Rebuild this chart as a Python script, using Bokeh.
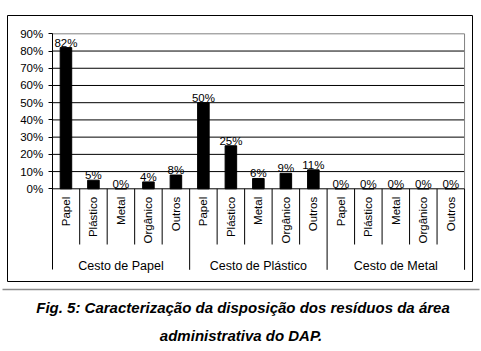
import math
from bokeh.plotting import figure
from bokeh.models import Range1d, FixedTicker, PrintfTickFormatter
from bokeh.core.properties import value
from bokeh.embed import file_html
from bokeh.resources import INLINE

# ---------------- data ----------------
groups = ["Cesto de Papel", "Cesto de Plástico", "Cesto de Metal"]
materials = ["Papel", "Plástico", "Metal", "Orgânico", "Outros"]
pct_cesto_papel = [82, 5, 0, 4, 8]
pct_cesto_plastico = [50, 25, 6, 9, 11]
pct_cesto_metal = [0, 0, 0, 0, 0]
y_ticks = [0, 10, 20, 30, 40, 50, 60, 70, 80, 90]
caption_line1 = "Fig. 5: Caracterização da disposição dos resíduos da área"
caption_line2 = "administrativa do DAP."

# ---------------- layout (pixels of the 481x351 page) ----------------
W, H = 481, 351
AX_X, AX_Y0 = 51.7, 188.3      # pixel position of the value axis and of 0 %
SLOT = 27.49                   # width of one category slot
PX_PER_PCT = 1.722             # pixels per percentage point
FONT = "Liberation Sans"


def dx(px):
    return (px - AX_X) / SLOT


def dy(py):
    return (AX_Y0 - py) / PX_PER_PCT


values = pct_cesto_papel + pct_cesto_plastico + pct_cesto_metal
sub_labels = materials * len(groups)
n = len(values)
centers = [i + 0.5 for i in range(n)]
gsize = len(materials)

p = figure(width=W, height=H,
           x_range=Range1d(dx(0), dx(W)), y_range=Range1d(dy(H), dy(0)),
           x_axis_location=None,
           output_backend="svg", toolbar_location=None, min_border=0)
p.outline_line_color = None
p.grid.visible = False
p.background_fill_color = "white"
p.border_fill_color = "white"

# outer chart box
p.quad(left=[dx(7)], right=[dx(472)], top=[dy(15)], bottom=[dy(281)],
       fill_color=None, line_color="black", line_width=1)

# horizontal grid lines (top one is the grey plot-area border)
grid_y = [t for t in y_ticks if 0 < t < max(y_ticks)]
p.segment(x0=[0] * len(grid_y), x1=[n] * len(grid_y), y0=grid_y, y1=grid_y,
          line_color="black", line_width=1)
p.segment(x0=[0, n], x1=[n, n], y0=[max(y_ticks), 0], y1=[max(y_ticks), max(y_ticks)],
          line_color="#808080", line_width=1)

# bars
p.vbar(x=centers, top=values, bottom=0, width=0.42,
       fill_color="black", line_color="black")

# x axis line at 0
p.segment(x0=[0], x1=[n], y0=[0], y1=[0], line_color="black", line_width=1)

# category dividers below the axis
short_b = dy(244)
long_b = dy(269.3)
div_x = list(range(1, n + 1))
div_b = [long_b if k % gsize == 0 else short_b for k in div_x]
p.segment(x0=div_x, x1=div_x, y0=[0] * len(div_x), y1=div_b,
          line_color="black", line_width=1)

# value labels
p.text(x=centers, y=values, text=[f"{v}%" for v in values],
       text_font=value(FONT), text_font_size="11.5px", text_color="black",
       text_align="center", text_baseline="alphabetic", y_offset=-5)

# sub-category labels (vertical)
p.text(x=centers, y=[0] * n, text=sub_labels, angle=math.pi / 2,
       text_font=value(FONT), text_font_size="11.5px", text_color="black",
       text_align="right", text_baseline="middle", y_offset=8)

# group labels
p.text(x=[g * gsize + gsize / 2 for g in range(len(groups))],
       y=[dy(265.5)] * len(groups), text=groups,
       text_font=value(FONT), text_font_size="12.5px", text_color="black",
       text_align="center", text_baseline="alphabetic")

# value axis
ya = p.yaxis[0]
ya.fixed_location = 0
ya.bounds = (long_b, max(y_ticks))
ya.ticker = FixedTicker(ticks=y_ticks)
ya.formatter = PrintfTickFormatter(format="%d%%")
ya.major_tick_out = 4
ya.major_tick_in = 0
ya.minor_tick_line_color = None
ya.major_label_standoff = 5
ya.major_label_text_font = FONT
ya.major_label_text_font_size = "11.5px"
ya.major_label_text_color = "black"
ya.axis_line_color = "black"
ya.major_tick_line_color = "black"

# separator line and caption
p.segment(x0=[dx(2)], x1=[dx(479)], y0=[dy(289)], y1=[dy(289)],
          line_color="#8c8c8c", line_width=1.5)
p.text(x=[dx(242.5), dx(240.5)], y=[dy(306.5), dy(335)],
       text=[caption_line1, caption_line2],
       text_font=value(FONT), text_font_style="bold italic",
       text_font_size="15px", text_color="black",
       text_align="center", text_baseline="alphabetic")

open("out.html", "w").write(file_html(p, INLINE))
